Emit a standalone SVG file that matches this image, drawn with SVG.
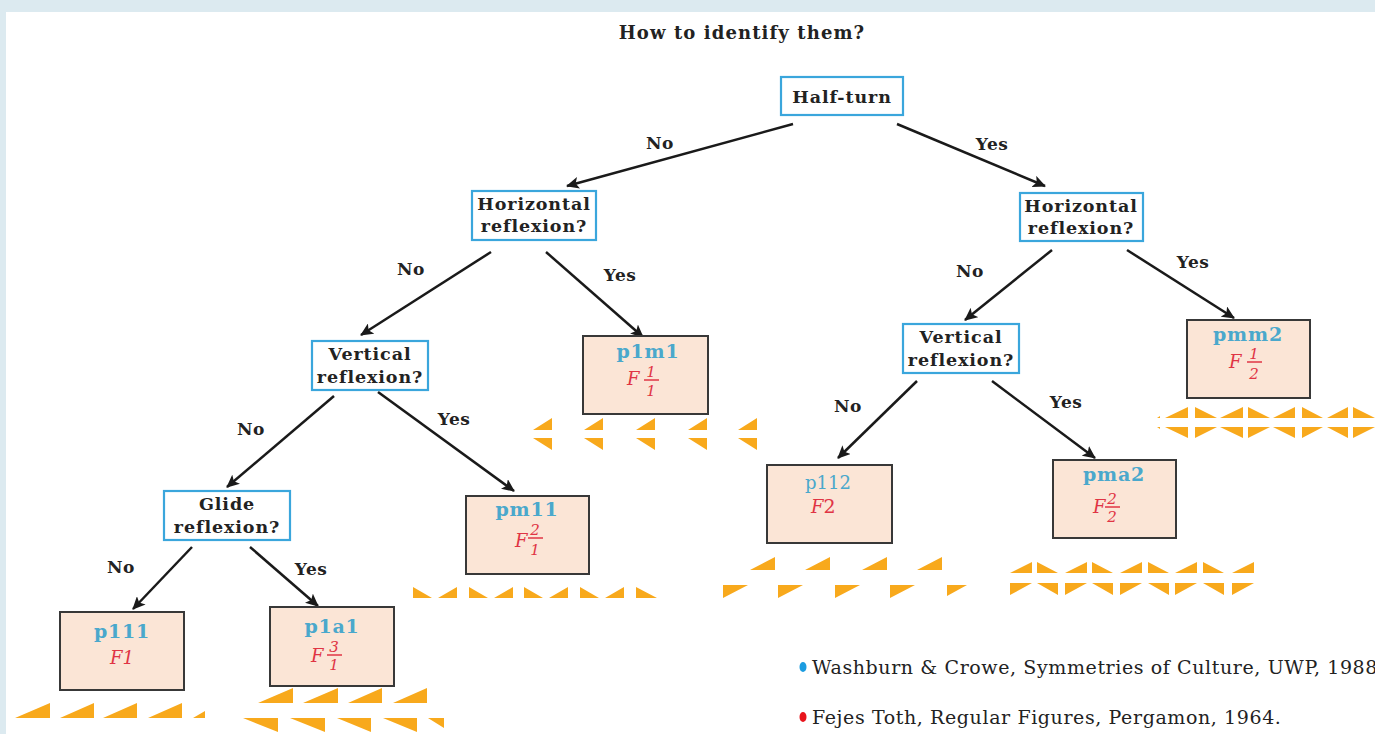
<svg xmlns="http://www.w3.org/2000/svg" width="1375" height="734" viewBox="0 0 1375 734">
<defs>
<style>
.q{fill:#ffffff;stroke:#3aa6dc;stroke-width:2.2}
.leaf{fill:#fbe5d6;stroke:#383838;stroke-width:2}
.t{font-family:"DejaVu Serif","Liberation Serif",serif;font-weight:bold;font-size:17.5px;letter-spacing:0.9px;fill:#222;text-anchor:middle}
.lbl{font-family:"DejaVu Serif","Liberation Serif",serif;font-weight:bold;font-size:17px;letter-spacing:0.5px;fill:#222;text-anchor:middle}
.nm{font-family:"DejaVu Serif","Liberation Serif",serif;font-weight:bold;font-size:19px;letter-spacing:0.8px;fill:#4aa8cc;text-anchor:middle}
.f{font-family:"DejaVu Serif","Liberation Serif",serif;font-style:italic;font-size:18px;fill:#e03444}
.fr{font-family:"DejaVu Serif","Liberation Serif",serif;font-style:italic;font-size:15px;fill:#e03444;text-anchor:middle}
.leg{font-family:"DejaVu Serif","Liberation Serif",serif;font-size:19px;letter-spacing:0.6px;fill:#222}
.tri{fill:#f8a91c}
.ar{stroke:#1a1a1a;stroke-width:2.5;fill:none;marker-end:url(#ah)}
.fl{stroke:#e03444;stroke-width:1.5}
</style>
<marker id="ah" markerUnits="userSpaceOnUse" markerWidth="14" markerHeight="12" refX="12" refY="6" orient="auto">
<path d="M0,0 L13,6 L0,12 L3,6 Z" fill="#1a1a1a"/>
</marker>
</defs>
<rect x="0" y="0" width="1375" height="734" fill="#dceaf0"/>
<rect x="6" y="12" width="1369" height="722" fill="#ffffff"/>

<text class="t" x="742" y="39" style="font-size:18px;letter-spacing:1.1px">How to identify them?</text>

<g id="connectors">
<line class="ar" x1="793" y1="124" x2="567" y2="186"/>
<line class="ar" x1="897" y1="124" x2="1045" y2="186"/>
<line class="ar" x1="491" y1="252" x2="361" y2="335"/>
<line class="ar" x1="546" y1="252" x2="643" y2="337"/>
<line class="ar" x1="1052" y1="250" x2="965" y2="320"/>
<line class="ar" x1="1127" y1="250" x2="1234" y2="318"/>
<line class="ar" x1="334" y1="396" x2="227" y2="487"/>
<line class="ar" x1="378" y1="392" x2="514" y2="491"/>
<line class="ar" x1="917" y1="381" x2="838" y2="458"/>
<line class="ar" x1="992" y1="381" x2="1095" y2="458"/>
<line class="ar" x1="192" y1="547" x2="133" y2="609"/>
<line class="ar" x1="250" y1="547" x2="318" y2="606"/>
<text class="lbl" x="660" y="149">No</text>
<text class="lbl" x="992" y="150">Yes</text>
<text class="lbl" x="411" y="275">No</text>
<text class="lbl" x="620" y="281">Yes</text>
<text class="lbl" x="970" y="277">No</text>
<text class="lbl" x="1193" y="268">Yes</text>
<text class="lbl" x="251" y="435">No</text>
<text class="lbl" x="454" y="425">Yes</text>
<text class="lbl" x="848" y="412">No</text>
<text class="lbl" x="1066" y="408">Yes</text>
<text class="lbl" x="121" y="573">No</text>
<text class="lbl" x="311" y="575">Yes</text>
</g>

<g id="halfturn">
<rect class="q" x="781" y="77" width="122" height="38"/>
<text class="t" x="842" y="103">Half-turn</text>
</g>
<g id="hrefl-left">
<rect class="q" x="472" y="191" width="124" height="49"/>
<text class="t" x="534" y="210">Horizontal</text>
<text class="t" x="534" y="232">reflexion?</text>
</g>
<g id="hrefl-right">
<rect class="q" x="1020" y="193" width="123" height="48"/>
<text class="t" x="1081" y="212">Horizontal</text>
<text class="t" x="1081" y="234">reflexion?</text>
</g>
<g id="vrefl-left">
<rect class="q" x="312" y="341" width="116" height="49"/>
<text class="t" x="370" y="360">Vertical</text>
<text class="t" x="370" y="383">reflexion?</text>
</g>
<g id="vrefl-right">
<rect class="q" x="903" y="324" width="116" height="49"/>
<text class="t" x="961" y="343">Vertical</text>
<text class="t" x="961" y="366">reflexion?</text>
</g>
<g id="glide">
<rect class="q" x="164" y="491" width="126" height="49"/>
<text class="t" x="227" y="510">Glide</text>
<text class="t" x="227" y="533">reflexion?</text>
</g>

<g id="p1m1">
<rect class="leaf" x="583" y="336" width="125" height="78"/>
<text class="nm" x="648" y="358">p1m1</text>
<text class="f" x="627" y="385">F</text>
<text class="fr" x="651" y="377">1</text>
<line class="fl" x1="644" y1="380" x2="659" y2="380"/>
<text class="fr" x="651" y="396">1</text>
</g>
<g id="pmm2">
<rect class="leaf" x="1187" y="320" width="123" height="78"/>
<text class="nm" x="1248" y="341">pmm2</text>
<text class="f" x="1229" y="368">F</text>
<text class="fr" x="1254" y="359">1</text>
<line class="fl" x1="1247" y1="362" x2="1262" y2="362"/>
<text class="fr" x="1254" y="379">2</text>
</g>
<g id="pm11">
<rect class="leaf" x="466" y="496" width="123" height="78"/>
<text class="nm" x="527" y="516">pm11</text>
<text class="f" x="515" y="547">F</text>
<text class="fr" x="535" y="535">2</text>
<line class="fl" x1="528" y1="538" x2="543" y2="538"/>
<text class="fr" x="535" y="555">1</text>
</g>
<g id="p112">
<rect class="leaf" x="767" y="465" width="125" height="78"/>
<text class="nm" x="828" y="489" style="font-weight:normal;font-size:18px;letter-spacing:0">p112</text>
<text class="f" x="811" y="513">F<tspan style="font-style:normal;font-size:19px">2</tspan></text>
</g>
<g id="pma2">
<rect class="leaf" x="1053" y="460" width="123" height="78"/>
<text class="nm" x="1114" y="481">pma2</text>
<text class="f" x="1093" y="513">F</text>
<text class="fr" x="1112" y="504">2</text>
<line class="fl" x1="1105" y1="507" x2="1120" y2="507"/>
<text class="fr" x="1112" y="522">2</text>
</g>
<g id="p111">
<rect class="leaf" x="60" y="612" width="124" height="78"/>
<text class="nm" x="122" y="638">p111</text>
<text class="f" x="110" y="664">F1</text>
</g>
<g id="p1a1">
<rect class="leaf" x="270" y="607" width="124" height="79"/>
<text class="nm" x="332" y="633">p1a1</text>
<text class="f" x="311" y="662">F</text>
<text class="fr" x="334" y="652">3</text>
<line class="fl" x1="327" y1="655" x2="342" y2="655"/>
<text class="fr" x="334" y="670">1</text>
</g>

<g id="patterns">
<path class="tri" d="M15 718L50 718L50 703Z M60 718L94 718L94 703Z M103 718L137 718L137 703Z M148 718L182 718L182 703Z M193 718L205 718L205 711Z"/>
<path class="tri" d="M258 703L293 703L293 688Z M303 703L338 703L338 688Z M348 703L382 703L382 688Z M393 703L427 703L427 688Z"/>
<path class="tri" d="M243 718L278 718L278 732Z M290 718L325 718L325 732Z M337 718L371 718L371 732Z M383 718L417 718L417 732Z M428 718L444 718L444 728Z"/>
<path class="tri" d="M533 430L552 430L552 418Z M584 430L603 430L603 418Z M636 430L655 430L655 418Z M688 430L707 430L707 418Z M738 430L757 430L757 418Z"/>
<path class="tri" d="M533 438L552 438L552 450Z M584 438L603 438L603 450Z M636 438L655 438L655 450Z M688 438L707 438L707 450Z M738 438L757 438L757 450Z"/>
<path class="tri" d="M413 587L413 598L432 598Z M438 598L457 598L457 587Z M469 587L469 598L488 598Z M494 598L513 598L513 587Z M524 587L524 598L543 598Z M549 598L568 598L568 587Z M580 587L580 598L599 598Z M605 598L624 598L624 587Z M636 587L636 598L657 598Z"/>
<path class="tri" d="M750 570L775 570L775 557Z M805 570L830 570L830 557Z M862 570L887 570L887 557Z M917 570L942 570L942 557Z"/>
<path class="tri" d="M723 585L748 585L723 598Z M778 585L803 585L778 598Z M835 585L860 585L835 598Z M890 585L915 585L890 598Z M947 585L967 585L947 596Z"/>
<path class="tri" d="M1010 573L1032 573L1032 562Z M1037 562L1037 573L1058 573Z M1065 573L1087 573L1087 562Z M1092 562L1092 573L1113 573Z M1120 573L1142 573L1142 562Z M1148 562L1148 573L1169 573Z M1175 573L1197 573L1197 562Z M1203 562L1203 573L1224 573Z M1232 573L1254 573L1254 562Z"/>
<path class="tri" d="M1010 583L1032 583L1010 595Z M1037 583L1058 583L1058 595Z M1065 583L1087 583L1065 595Z M1092 583L1113 583L1113 595Z M1120 583L1142 583L1120 595Z M1148 583L1169 583L1169 595Z M1175 583L1197 583L1175 595Z M1203 583L1224 583L1224 595Z M1232 583L1254 583L1232 595Z"/>
<path class="tri" d="M1157 418L1160 418L1160 416Z M1165 418L1188 418L1188 407Z M1195 407L1195 418L1217 418Z M1220 418L1243 418L1243 407Z M1248 407L1248 418L1270 418Z M1273 418L1295 418L1295 407Z M1302 407L1302 418L1323 418Z M1327 418L1348 418L1348 407Z M1353 407L1353 418L1375 418Z"/>
<path class="tri" d="M1157 427L1160 427L1160 429Z M1165 427L1188 427L1188 438Z M1195 427L1217 427L1195 438Z M1220 427L1243 427L1243 438Z M1248 427L1270 427L1248 438Z M1273 427L1295 427L1295 438Z M1302 427L1323 427L1302 438Z M1327 427L1348 427L1348 438Z M1353 427L1375 427L1353 438Z"/>
</g>

<g id="legend">
<ellipse cx="803" cy="667" rx="3.5" ry="5" fill="#1b9ce0"/>
<text class="leg" x="812" y="674">Washburn &amp; Crowe, Symmetries of Culture, UWP, 1988</text>
<ellipse cx="803" cy="717" rx="3.5" ry="5" fill="#e8141c"/>
<text class="leg" x="812" y="724">Fejes Toth, Regular Figures, Pergamon, 1964.</text>
</g>
</svg>
